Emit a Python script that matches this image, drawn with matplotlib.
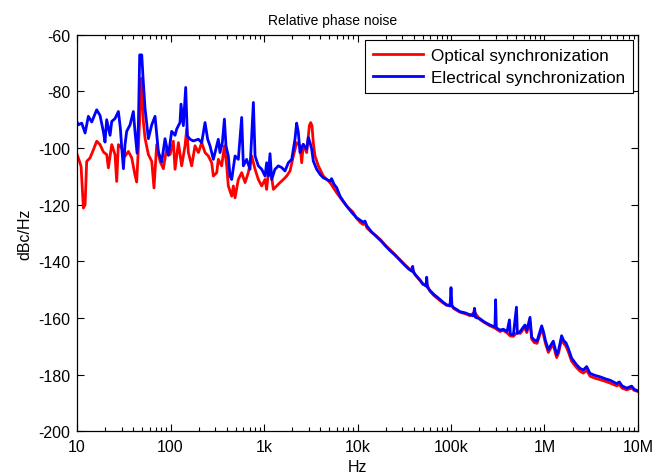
import numpy as np
import matplotlib
matplotlib.use("Agg")
import matplotlib.pyplot as plt
from matplotlib.ticker import FixedLocator, FixedFormatter, LogLocator, NullFormatter

plt.rcParams['font.family'] = ['Liberation Sans', 'DejaVu Sans']
plt.rcParams['axes.unicode_minus'] = False

# Offset frequency (log10 Hz) and phase noise (dBc/Hz), optical synchronization
optical_log_hz = [
    1.000, 1.014, 1.043, 1.068, 1.086, 1.103, 1.139, 1.175, 1.210, 1.246,
    1.282, 1.317, 1.335, 1.371, 1.406, 1.424, 1.442, 1.478, 1.513, 1.549,
    1.585, 1.620, 1.638, 1.656, 1.677, 1.692, 1.709, 1.727, 1.763, 1.799,
    1.823, 1.852, 1.888, 1.923, 1.959, 1.995, 2.030, 2.048, 2.084, 2.119,
    2.155, 2.173, 2.191, 2.226, 2.262, 2.298, 2.333, 2.369, 2.404, 2.440,
    2.458, 2.494, 2.511, 2.547, 2.576, 2.601, 2.618, 2.654, 2.672, 2.690,
    2.725, 2.761, 2.797, 2.832, 2.868, 2.904, 2.939, 2.975, 3.011, 3.028,
    3.057, 3.064, 3.100, 3.135, 3.171, 3.207, 3.242, 3.278, 3.314, 3.349,
    3.385, 3.403, 3.420, 3.456, 3.485, 3.499, 3.513, 3.527, 3.545, 3.581,
    3.634, 3.706, 3.777, 3.830, 3.884,
    3.90, 3.95, 3.99, 4.03, 4.06, 4.08, 4.10, 4.15, 4.20, 4.25,
    4.30, 4.35, 4.40, 4.455, 4.50, 4.55, 4.590, 4.62, 4.668, 4.700,
    4.740, 4.775, 4.82, 4.865, 4.91, 4.954, 5.000, 5.025, 5.06, 5.096,
    5.15, 5.203, 5.252, 5.310, 5.36, 5.417, 5.47, 5.524, 5.56, 5.60,
    5.635, 5.667, 5.710, 5.74, 5.77, 5.791, 5.81, 5.845, 5.863, 5.89,
    5.92, 5.945, 5.970, 5.99, 6.010, 6.041, 6.070, 6.094, 6.115, 6.130,
    6.150, 6.183, 6.205, 6.230, 6.255, 6.290, 6.344, 6.380, 6.415, 6.451,
    6.487, 6.54, 6.594, 6.65, 6.701, 6.772, 6.800, 6.830, 6.879, 6.932,
    6.960, 7.000,
]
optical_dbc = [
    -102.3, -103.5, -106.5, -121.2, -120.0, -104.7, -103.5, -100.6, -97.6, -98.8,
    -101.4, -102.3, -107.0, -98.8, -102.3, -111.8, -98.8, -100.0, -102.9, -101.2,
    -103.5, -109.6, -112.0, -100.0, -84.7, -75.3, -90.6, -96.5, -102.3, -104.7,
    -114.1, -98.8, -104.7, -107.3, -100.0, -102.3, -97.6, -107.5, -98.1, -106.3,
    -99.2, -93.3, -101.6, -106.3, -99.2, -101.6, -98.1, -101.6, -102.8, -105.2,
    -109.9, -108.7, -104.0, -106.3, -99.2, -106.3, -113.4, -117.0, -113.4, -117.6,
    -111.1, -108.7, -112.2, -108.7, -102.8, -107.5, -111.1, -113.4, -111.1, -114.6,
    -105.2, -106.3, -114.6, -113.4, -112.2, -111.1, -109.9, -108.1, -102.8, -98.1,
    -99.2, -105.2, -98.7, -101.6, -92.1, -91.0, -92.1, -98.1, -102.8, -106.3,
    -109.9, -112.2, -115.8, -118.2, -120.5,
    -121.0, -122.6, -124.8, -126.3, -127.0, -126.6, -128.2, -129.8, -131.0, -132.5,
    -134.4, -136.0, -137.6, -139.5, -141.0, -142.6, -143.0, -144.9, -146.8, -148.2,
    -148.0, -150.6, -152.2, -153.4, -154.6, -155.6, -155.2, -156.6, -157.3, -158.0,
    -158.5, -159.2, -158.0, -160.6, -161.7, -162.8, -163.6, -164.8, -164.4, -165.3,
    -166.4, -166.5, -165.0, -165.5, -164.2, -163.3, -165.2, -161.5, -167.5, -168.7,
    -169.0, -166.5, -164.0, -166.0, -169.0, -172.2, -170.5, -169.3, -172.2, -174.0,
    -172.5, -167.5, -169.0, -170.0, -172.0, -175.3, -177.6, -178.8, -179.5, -178.5,
    -180.6, -181.3, -181.8, -182.4, -183.0, -184.0, -183.6, -184.8, -185.4, -184.8,
    -185.6, -186.0,
]

# Offset frequency (log10 Hz) and phase noise (dBc/Hz), electrical synchronization
electrical_log_hz = [
    1.000, 1.014, 1.050, 1.086, 1.121, 1.157, 1.210, 1.246, 1.282, 1.299,
    1.317, 1.353, 1.371, 1.406, 1.442, 1.463, 1.478, 1.496, 1.513, 1.531,
    1.567, 1.602, 1.620, 1.642, 1.656, 1.670, 1.692, 1.706, 1.727, 1.763,
    1.799, 1.834, 1.870, 1.905, 1.941, 1.977, 2.012, 2.048, 2.066, 2.101,
    2.112, 2.137, 2.162, 2.180, 2.208, 2.244, 2.298, 2.333, 2.369, 2.397,
    2.422, 2.458, 2.494, 2.511, 2.529, 2.554, 2.576, 2.593, 2.618, 2.636,
    2.654, 2.690, 2.725, 2.761, 2.779, 2.814, 2.850, 2.886, 2.904, 2.939,
    2.975, 3.011, 3.028, 3.046, 3.064, 3.082, 3.117, 3.153, 3.189, 3.224,
    3.260, 3.296, 3.314, 3.331, 3.349, 3.367, 3.385, 3.403, 3.420, 3.456,
    3.474, 3.492, 3.510, 3.527, 3.563, 3.599, 3.634, 3.670, 3.706, 3.723,
    3.748, 3.777, 3.813, 3.848, 3.884,
    3.90, 3.95, 3.99, 4.03, 4.06, 4.08, 4.10, 4.15, 4.20, 4.25,
    4.30, 4.35, 4.40, 4.455, 4.50, 4.55, 4.580, 4.590, 4.600, 4.62,
    4.668, 4.700, 4.735, 4.740, 4.748, 4.775, 4.82, 4.865, 4.91, 4.954,
    4.990, 5.000, 5.010, 5.025, 5.06, 5.096, 5.15, 5.203, 5.239, 5.252,
    5.262, 5.310, 5.36, 5.417, 5.47, 5.477, 5.485, 5.524, 5.56, 5.60,
    5.625, 5.635, 5.667, 5.700, 5.710, 5.74, 5.77, 5.791, 5.81, 5.845,
    5.863, 5.89, 5.92, 5.945, 5.970, 5.99, 6.010, 6.041, 6.070, 6.094,
    6.115, 6.130, 6.150, 6.183, 6.205, 6.230, 6.255, 6.290, 6.344, 6.380,
    6.415, 6.451, 6.487, 6.54, 6.594, 6.65, 6.701, 6.772, 6.800, 6.830,
    6.879, 6.932, 6.960, 7.000,
]
electrical_dbc = [
    -90.8, -91.8, -91.2, -94.7, -88.8, -90.8, -86.5, -88.5, -94.3, -97.9,
    -90.0, -95.5, -90.6, -89.6, -87.1, -92.9, -100.0, -107.3, -98.8, -94.1,
    -91.8, -87.1, -94.3, -101.8, -91.8, -67.1, -67.1, -75.3, -85.9, -96.7,
    -91.8, -88.8, -101.4, -104.9, -96.7, -102.6, -94.1, -95.5, -93.3, -91.0,
    -84.5, -92.1, -78.6, -95.7, -96.9, -97.5, -96.9, -98.1, -91.0, -96.9,
    -99.2, -104.0, -99.2, -96.9, -101.6, -98.1, -89.8, -99.2, -102.8, -109.9,
    -111.1, -102.8, -104.0, -89.2, -106.3, -104.0, -107.5, -83.9, -102.8, -106.3,
    -107.5, -109.9, -105.2, -109.9, -102.0, -111.1, -107.5, -106.3, -106.9, -108.1,
    -105.2, -104.0, -100.4, -96.9, -91.2, -94.5, -101.6, -99.8, -98.7, -100.4,
    -96.3, -98.1, -100.4, -104.6, -107.5, -109.3, -110.5, -111.1, -111.7, -110.8,
    -112.8, -114.0, -117.0, -118.8, -120.5,
    -121.2, -123.2, -124.6, -125.5, -126.2, -125.8, -127.5, -129.6, -131.2, -132.8,
    -134.6, -136.3, -137.8, -139.7, -141.2, -142.8, -143.5, -141.8, -144.0, -144.8,
    -146.6, -148.0, -148.8, -145.6, -149.2, -150.3, -151.8, -153.0, -154.3, -155.4,
    -155.8, -149.3, -155.6, -156.3, -157.0, -157.8, -158.2, -158.9, -159.3, -156.6,
    -159.8, -160.3, -161.5, -162.5, -163.2, -153.6, -163.5, -164.3, -164.0, -164.8,
    -160.7, -165.8, -166.0, -156.2, -165.5, -164.8, -163.4, -162.5, -164.5, -159.8,
    -166.8, -167.8, -168.2, -165.5, -162.8, -165.0, -168.0, -171.2, -169.5, -168.2,
    -171.0, -173.0, -171.5, -166.3, -168.0, -168.8, -170.8, -174.2, -176.6, -177.8,
    -178.4, -177.2, -179.6, -180.3, -180.8, -181.5, -182.0, -183.2, -182.6, -184.0,
    -184.8, -184.1, -185.2, -185.8,
]

x_tick_values = [1e1, 1e2, 1e3, 1e4, 1e5, 1e6, 1e7]
x_tick_labels = ['10', '100', '1k', '10k', '100k', '1M', '10M']
y_tick_values = [-200, -180, -160, -140, -120, -100, -80, -60]

fig = plt.figure(figsize=(6.53, 4.77), dpi=100)
ax = fig.add_axes([0.118, 0.094, 0.859, 0.831])

ax.plot(10 ** np.array(optical_log_hz), optical_dbc, color='#ff0000', lw=2.0,
        label='Optical synchronization')
ax.plot(10 ** np.array(electrical_log_hz), electrical_dbc, color='#0000ff', lw=2.0,
        label='Electrical synchronization')

ax.set_xscale('log')
ax.set_xlim(1e1, 1e7)
ax.set_ylim(-200, -60)

ax.xaxis.set_major_locator(FixedLocator(x_tick_values))
ax.xaxis.set_major_formatter(FixedFormatter(x_tick_labels))
ax.xaxis.set_minor_locator(LogLocator(base=10, subs=np.arange(2, 10), numticks=20))
ax.xaxis.set_minor_formatter(NullFormatter())
ax.set_yticks(y_tick_values)

ax.tick_params(which='both', direction='in', top=True, right=True, labelsize=11.5,
               width=0.8, colors='black')
ax.tick_params(which='major', length=5)
ax.tick_params(axis='x', which='major', pad=6)
ax.tick_params(axis='y', which='major', pad=5)
ax.tick_params(which='minor', length=3)
for s in ax.spines.values():
    s.set_linewidth(0.9)
    s.set_color('black')

ax.set_title('Relative phase noise', fontsize=10, pad=8, x=0.455)
ax.set_xlabel('Hz', fontsize=11.5, labelpad=3)
ax.set_ylabel('dBc/Hz', fontsize=11.5, labelpad=4)

leg = ax.legend(loc='upper right', fontsize=12.3, handlelength=2.9, fancybox=False,
                edgecolor='black', framealpha=1, borderaxespad=0.3,
                handletextpad=0.5, borderpad=0.45, labelspacing=0.45)
leg.get_frame().set_linewidth(0.8)

fig.savefig('out.png', dpi=100)
